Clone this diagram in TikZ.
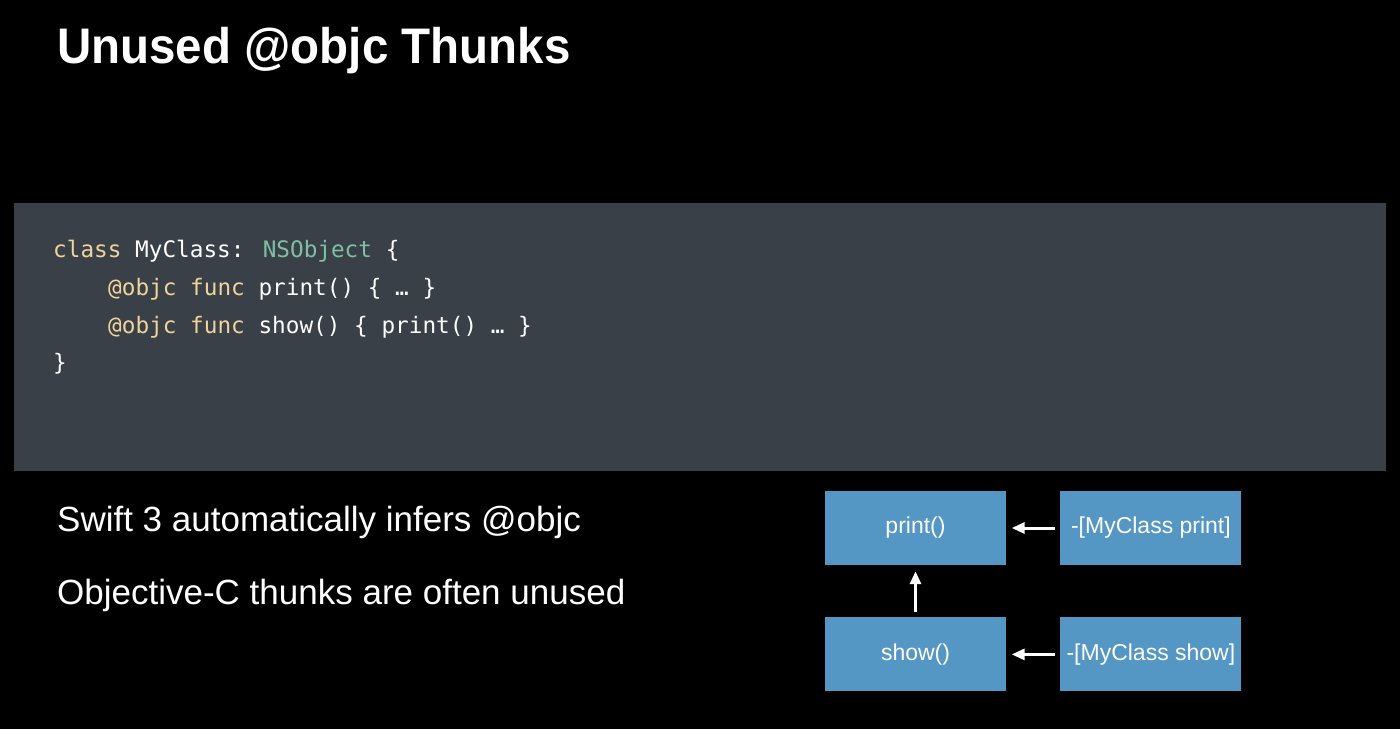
\documentclass[tikz,border=0pt]{standalone}
\usepackage{fontspec}
\setmainfont{Liberation Sans}
\newfontfamily\codefont{DejaVu Sans Mono}
\usetikzlibrary{positioning,arrows.meta}

\definecolor{panelgray}{RGB}{58,64,72}
\definecolor{boxblue}{RGB}{84,150,196}
\definecolor{kwyellow}{RGB}{240,212,156}
\definecolor{typegreen}{RGB}{128,192,160}

\begin{document}
\begin{tikzpicture}[
        x=1pt, y=-1pt,
        box/.style={rectangle, fill=boxblue, text=white, minimum width=181pt, minimum height=74pt,
          inner sep=0pt, font=\fontsize{23}{27}\selectfont},
        arr/.style={white, line width=3pt, -{Triangle[length=13pt, width=11pt]}},
        codeline/.style={anchor=base west, inner sep=0pt, text=white, font=\codefont\fontsize{22.7}{27}\selectfont},
        bullet/.style={anchor=base west, inner sep=0pt, text=white, font=\fontsize{35}{42}\selectfont}
      ]
      \fill[black] (0,0) rectangle (1400,729);
      \useasboundingbox (0,0) rectangle (1400,729);

      % title
      \node[anchor=base west, inner sep=0pt, text=white,
        font=\addfontfeature{FakeStretch=0.95}\fontsize{50}{60}\selectfont\bfseries] (title) at (57,63) {Unused @objc Thunks};

      % code panel
      \fill[panelgray] (14,203) rectangle (1386,471);
      \node[codeline] (line1) at (53,257) {\textcolor{kwyellow}{class} MyClass: \textcolor{typegreen}{NSObject} \{};
      \node[codeline] (line2) at (108,295) {\textcolor{kwyellow}{@objc func} print() \{ … \}};
      \node[codeline] (line3) at (108,333) {\textcolor{kwyellow}{@objc func} show() \{ print() … \}};
      \node[codeline] (line4) at (53,370) {\}};

      % bullets
      \node[bullet] (infer) at (57,531) {Swift 3 automatically infers @objc};
      \node[bullet] (unused) at (57,604) {Objective-C thunks are often unused};

      % call graph
      \node[box] (print) at (915.5,528) {print()};
      \node[box, right=54pt of print] (objcprint) {-[MyClass print]};
      \node[box, below=52pt of print] (show) {show()};
      \node[box, right=54pt of show] (objcshow) {-[MyClass show]};

      \draw[arr, shorten <=5pt, shorten >=5.5pt] (objcprint) -- (print);
      \draw[arr, shorten <=5pt, shorten >=5.5pt] (objcshow) -- (show);
      \draw[arr, shorten <=5pt, shorten >=6pt] (show) -- (print);
    \end{tikzpicture}
\end{document}
